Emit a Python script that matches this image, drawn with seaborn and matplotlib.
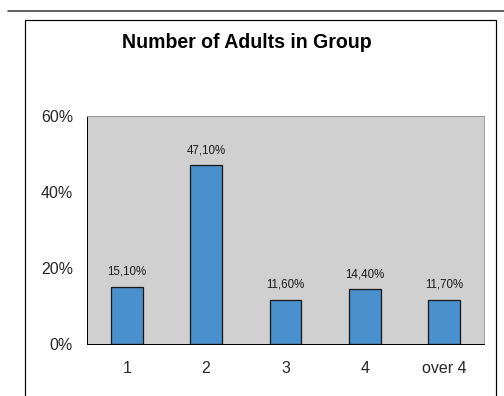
import matplotlib
matplotlib.use("Agg")
import matplotlib.pyplot as plt
import seaborn as sns
from matplotlib.lines import Line2D
from matplotlib.patches import Rectangle
from matplotlib.ticker import FixedLocator

categories = ["1", "2", "3", "4", "over 4"]
shares = [15.1, 47.1, 11.6, 14.4, 11.7]
value_labels = ["15,10%", "47,10%", "11,60%", "14,40%", "11,70%"]
y_ticks = [0, 20, 40, 60]
y_tick_labels = ["0%", "20%", "40%", "60%"]
title = "Number of Adults in Group"

sns.set_style("white")
plt.rcParams["font.family"] = ["Liberation Sans", "DejaVu Sans"]

W, H = 504, 396
fig = plt.figure(figsize=(W / 72, H / 72), dpi=72)

# plot area in pixel coordinates
left, right, top, bottom = 87, 484, 116, 344
ax = fig.add_axes([left / W, 1 - bottom / H, (right - left) / W, (bottom - top) / H])
ax.set_facecolor("#d0d0d0")

sns.barplot(x=categories, y=shares, color="#4a90cd", width=0.4,
            edgecolor="#1a1a1a", linewidth=1.3, saturation=1, ax=ax)

ax.set_xlim(-0.5, len(categories) - 0.5)
ax.set_ylim(0, 60)
ax.set_yticks(y_ticks)
ax.set_yticklabels(y_tick_labels, fontsize=16)
ax.tick_params(axis="y", direction="out", length=7, width=1, color="black", pad=7)
ax.tick_params(axis="x", which="major", length=0, labelsize=16, pad=17)
ax.xaxis.set_minor_locator(FixedLocator([i - 0.5 for i in range(len(categories) + 1)]))
ax.tick_params(axis="x", which="minor", direction="out", length=5, width=1, color="black")
ax.set_xlabel("")
ax.set_ylabel("")

for side in ["left", "bottom"]:
    ax.spines[side].set_visible(True)
    ax.spines[side].set_color("black")
    ax.spines[side].set_linewidth(1)
for side in ["top", "right"]:
    ax.spines[side].set_visible(True)
    ax.spines[side].set_color("#9a9a9a")
    ax.spines[side].set_linewidth(1)

for i, (v, lab) in enumerate(zip(shares, value_labels)):
    ax.annotate(lab, (i, v), xytext=(0, 9), textcoords="offset points",
                ha="center", va="bottom", fontsize=11.5, color="#1a1a1a")

# chart frame and title
fig.add_artist(Line2D([8 / W, 1], [1 - 10.5 / H, 1 - 10.5 / H], color="#333333", lw=1.5))
fig.add_artist(Rectangle((25 / W, -0.05), (496 - 25) / W, 1.05 - 20 / H,
                         fill=False, edgecolor="black", lw=1.2,
                         transform=fig.transFigure))
fig.text(247 / W, 1 - 43 / H, title, ha="center", va="center",
         fontsize=19.5, fontweight="bold", color="black")

fig.savefig("out.png", dpi=72)
